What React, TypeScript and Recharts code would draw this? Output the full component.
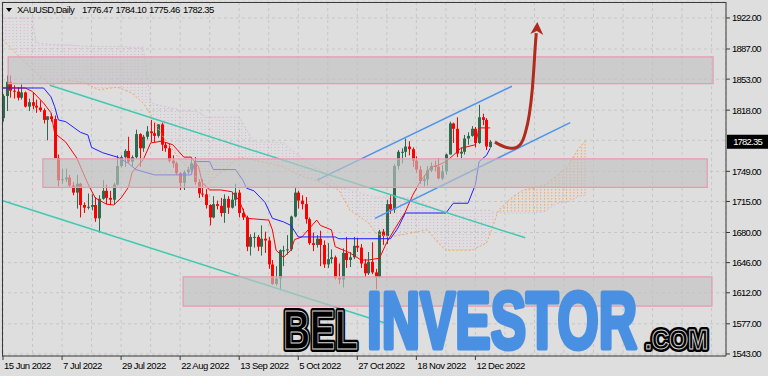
import React from 'react'
import {
  ComposedChart, Bar, Line, Area, XAxis, YAxis, CartesianGrid,
  ReferenceArea, ReferenceLine
} from 'recharts'

// XAUUSD daily candles, 15 Jun 2022 .. 16 Dec 2022: [open, high, low, close]
const CANDLES: [number, number, number, number][] = [
  [1809, 1836, 1805, 1834], [1834, 1857, 1817, 1850], [1850, 1857, 1832, 1840], [1840, 1846, 1831, 1839],
  [1839, 1844, 1829, 1832], [1832, 1847, 1830, 1838], [1838, 1839, 1821, 1822], [1822, 1831, 1817, 1827],
  [1827, 1838, 1819, 1823], [1823, 1830, 1815, 1821], [1821, 1829, 1816, 1818], [1818, 1820, 1803, 1807],
  [1807, 1811, 1784, 1811], [1811, 1814, 1805, 1808], [1808, 1812, 1764, 1764], [1764, 1768, 1732, 1739],
  [1739, 1752, 1735, 1740], [1740, 1752, 1737, 1742], [1742, 1745, 1731, 1733], [1733, 1737, 1722, 1725],
  [1725, 1745, 1707, 1735], [1735, 1736, 1697, 1711], [1711, 1714, 1702, 1708], [1708, 1724, 1706, 1709],
  [1709, 1723, 1705, 1711], [1711, 1720, 1692, 1696], [1696, 1722, 1680, 1718], [1718, 1739, 1717, 1727],
  [1727, 1734, 1712, 1719], [1719, 1727, 1711, 1717], [1717, 1736, 1711, 1734], [1734, 1767, 1733, 1755],
  [1755, 1767, 1753, 1765], [1765, 1774, 1754, 1772], [1772, 1788, 1758, 1760], [1760, 1767, 1754, 1765],
  [1765, 1796, 1763, 1791], [1791, 1792, 1754, 1775], [1775, 1790, 1771, 1788], [1788, 1800, 1785, 1794],
  [1794, 1807, 1782, 1792], [1792, 1804, 1782, 1789], [1789, 1802, 1787, 1802], [1802, 1804, 1772, 1779],
  [1779, 1782, 1771, 1775], [1775, 1780, 1759, 1761], [1761, 1767, 1753, 1758], [1758, 1760, 1745, 1747],
  [1747, 1748, 1728, 1736], [1736, 1750, 1728, 1748], [1748, 1754, 1746, 1751], [1751, 1764, 1748, 1758],
  [1758, 1765, 1734, 1737], [1737, 1740, 1719, 1724], [1724, 1740, 1720, 1723], [1723, 1729, 1707, 1711],
  [1711, 1712, 1688, 1697], [1697, 1721, 1696, 1712], [1712, 1716, 1706, 1710], [1710, 1719, 1698, 1702],
  [1702, 1723, 1691, 1718], [1718, 1721, 1701, 1708], [1708, 1726, 1707, 1717], [1717, 1735, 1710, 1725],
  [1725, 1728, 1697, 1702], [1702, 1707, 1694, 1697], [1697, 1699, 1659, 1664], [1664, 1678, 1654, 1675],
  [1675, 1680, 1663, 1675], [1675, 1677, 1659, 1664], [1664, 1688, 1654, 1673], [1673, 1681, 1657, 1671],
  [1671, 1675, 1639, 1644], [1644, 1649, 1621, 1622], [1622, 1642, 1620, 1628], [1628, 1661, 1615, 1660],
  [1660, 1665, 1642, 1660], [1660, 1677, 1655, 1661], [1661, 1699, 1659, 1698], [1698, 1730, 1697, 1725],
  [1725, 1727, 1707, 1716], [1716, 1722, 1706, 1712], [1712, 1720, 1690, 1695], [1695, 1697, 1666, 1668],
  [1668, 1680, 1659, 1666], [1666, 1677, 1663, 1673], [1673, 1682, 1642, 1666], [1666, 1671, 1640, 1644],
  [1644, 1668, 1640, 1650], [1650, 1661, 1645, 1652], [1652, 1654, 1627, 1629], [1629, 1645, 1622, 1627],
  [1627, 1662, 1618, 1657], [1657, 1675, 1640, 1649], [1649, 1658, 1641, 1652], [1652, 1675, 1650, 1665],
  [1665, 1674, 1658, 1663], [1663, 1667, 1640, 1645], [1645, 1650, 1630, 1634], [1634, 1658, 1632, 1647],
  [1647, 1669, 1633, 1635], [1635, 1639, 1616, 1630], [1630, 1683, 1629, 1681], [1681, 1684, 1666, 1676],
  [1676, 1717, 1667, 1712], [1712, 1722, 1701, 1706], [1706, 1757, 1702, 1755], [1755, 1773, 1751, 1771],
  [1771, 1775, 1758, 1771], [1771, 1786, 1765, 1777], [1777, 1783, 1767, 1774], [1774, 1776, 1754, 1761],
  [1761, 1766, 1747, 1751], [1751, 1755, 1735, 1738], [1738, 1745, 1732, 1740], [1740, 1755, 1733, 1750],
  [1750, 1759, 1748, 1755], [1755, 1761, 1749, 1754], [1754, 1764, 1740, 1741], [1741, 1756, 1739, 1749],
  [1749, 1769, 1745, 1768], [1768, 1805, 1768, 1803], [1803, 1804, 1781, 1797], [1797, 1810, 1765, 1769],
  [1769, 1776, 1764, 1771], [1771, 1790, 1768, 1786], [1786, 1793, 1779, 1789], [1789, 1800, 1788, 1797],
  [1797, 1799, 1776, 1781], [1781, 1824, 1780, 1810], [1810, 1814, 1801, 1807], [1807, 1809, 1773, 1777],
  [1776.47, 1784.1, 1775.46, 1782.35],
]

const DATE_LABELS = [
  '15 Jun 2022', '7 Jul 2022', '29 Jul 2022', '22 Aug 2022', '13 Sep 2022',
  '5 Oct 2022', '27 Oct 2022', '18 Nov 2022', '12 Dec 2022',
]
const PRICE_TICKS = [1543, 1577, 1612, 1646, 1680, 1715, 1749, 1784, 1818, 1853, 1887, 1922]
const LAST_PRICE = 1782.35

// Ichimoku: [bar, value]
const TENKAN: [number, number][] = [
  [0, 1843], [6, 1843], [8, 1839], [11, 1826], [13, 1815], [14, 1792], [17, 1782], [20, 1764],
  [23, 1735], [25, 1719], [28, 1712], [30, 1711], [32, 1719], [34, 1731], [35, 1748], [38, 1762],
  [40, 1781], [43, 1783], [46, 1779], [49, 1765], [51, 1765], [53, 1754], [54, 1736], [56, 1728],
  [59, 1728], [62, 1726], [64, 1716], [66, 1696], [72, 1694], [73, 1683], [74, 1660], [76, 1652],
  [78, 1660], [79, 1672], [81, 1675], [85, 1694], [86, 1688], [89, 1683], [90, 1664], [94, 1657],
  [97, 1649], [99, 1649], [102, 1651], [104, 1669], [106, 1683], [109, 1703], [111, 1722], [113, 1737],
  [116, 1754], [118, 1756], [120, 1760], [122, 1767], [124, 1775], [128, 1779], [129, 1798], [132, 1798],
]
const KIJUN: [number, number][] = [
  [0, 1843], [11, 1843], [13, 1833], [14, 1822], [15, 1807], [17, 1805], [19, 1799], [21, 1793],
  [23, 1790], [24, 1776], [27, 1770], [31, 1765], [34, 1758], [36, 1751], [41, 1745], [51, 1745],
  [52, 1760], [56, 1760], [57, 1751], [63, 1751], [65, 1739], [66, 1730], [68, 1727], [71, 1714],
  [73, 1696], [76, 1692], [78, 1688], [80, 1675], [90, 1675], [91, 1673], [105, 1673], [107, 1685],
  [109, 1702], [120, 1702], [122, 1713], [126, 1713], [128, 1734], [129, 1760], [131, 1767], [132, 1775],
]
// [bar, senkou span A, senkou span B]
const CLOUD: [number, number, number][] = [
  [0, 1897, 1922], [8, 1863, 1922], [9, 1860, 1894], [13, 1846, 1892], [17, 1852, 1892], [22, 1849, 1890],
  [26, 1841, 1890], [31, 1844, 1890], [35, 1837, 1889], [38, 1826, 1889], [40, 1813, 1826], [43, 1790, 1823],
  [48, 1762, 1818], [53, 1739, 1816], [55, 1734, 1810], [61, 1754, 1810], [64, 1765, 1810], [68, 1762, 1782],
  [72, 1758, 1782], [76, 1754, 1781], [80, 1745, 1767], [86, 1737, 1750], [91, 1728, 1731], [94, 1705, 1728],
  [99, 1691, 1722], [101, 1679, 1720], [105, 1675, 1720], [110, 1679, 1719], [115, 1683, 1711], [118, 1668, 1705],
  [120, 1660, 1705], [127, 1660, 1705], [131, 1668, 1705], [132, 1679, 1705], [133, 1690, 1703], [134, 1703, 1703],
  [135, 1708, 1702], [138, 1720, 1702], [141, 1728, 1702], [144, 1730, 1702], [147, 1734, 1704], [150, 1744, 1713],
  [153, 1755, 1714], [156, 1775, 1721], [158, 1784, 1722],
]

// drawn objects
const ZONES: [number, number, number, number][] = [
  [1.4, 192.4, 1848, 1878],
  [10.8, 190.8, 1731, 1763],
  [48.8, 192.1, 1597, 1630],
]
const DOWN_CHANNEL: [number, number, number, number][] = [
  [12.7, 1846, 141.5, 1674],
  [-0.25, 1716, 103.5, 1578],
]
const UP_CHANNEL: [number, number, number, number][] = [
  [85.1, 1739, 137.9, 1845],
  [100.8, 1696, 153.7, 1804],
]
const FORECAST: [number, number][] = [
  [133.3, 1782], [136, 1776.5], [138.2, 1775], [140.1, 1779], [141.5, 1792],
  [142.6, 1813], [143.4, 1841], [143.9, 1869], [144.2, 1889], [144.5, 1905],
]

const BULL = '#2f6a4f'
const BEAR = '#ff0000'
const ARROW_COLOR = '#b02a1e'
const AXIS = '#3a3a3a'
const FONT = '"Liberation Sans", Arial, sans-serif'

const candleData = CANDLES.map(([o, h, l, c], i) => ({ i, o, h, l, c, range: [l, h] }))
const toPoints = (arr: [number, number][]) => arr.map(([i, v]) => ({ i, v }))
const cloudData = CLOUD.map(([i, a, b]) => ({
  i, a, b,
  pink: b >= a ? [a, b] : null,
  orange: a >= b ? [b, a] : null,
}))
const gridTicks = Array.from({ length: 25 }, (_, k) => k * 8)

function Candle(props: any) {
  const { x, y, width, height, payload } = props
  const { o, h, l, c } = payload
  const top = Math.min(y, y + height)
  const bot = Math.max(y, y + height)
  const k = (bot - top) / (h - l || 1)
  const yo = top + (h - o) * k
  const yc = top + (h - c) * k
  const cx = Math.round(x + width / 2) + 0.5
  const color = c >= o ? BULL : BEAR
  return (
    <g>
      <line x1={cx} x2={cx} y1={top} y2={bot} stroke={color} strokeWidth={1} />
      <rect x={cx - 1.5} y={Math.min(yo, yc)} width={3} height={Math.max(1, Math.abs(yc - yo))} fill={color} />
    </g>
  )
}

function XTick({ x, y, payload }: any) {
  const k = payload.value / 16
  const label = Number.isInteger(k) ? DATE_LABELS[k] : undefined
  if (!label) return <g />
  return (
    <g>
      <line x1={x} x2={x} y1={y} y2={y + 4} stroke={AXIS} />
      <text x={x + 1} y={y + 13} fontSize={9.5} letterSpacing={-0.5} fill="#000" fontFamily={FONT}>{label}</text>
    </g>
  )
}

function YTick({ x, y, payload }: any) {
  if (payload.value === 1784) return <g />
  return (
    <g>
      <line x1={x} x2={x + 4} y1={y} y2={y} stroke={AXIS} />
      <text x={x + 6} y={y + 3.5} fontSize={9.5} letterSpacing={-0.8} fill="#000" fontFamily={FONT}>
        {payload.value.toFixed(2)}
      </text>
    </g>
  )
}

function PriceTag({ viewBox }: any) {
  const x = viewBox.x + viewBox.width
  const y = viewBox.y
  return (
    <g>
      <rect x={x + 1} y={y - 7} width={41} height={14} fill="#000" />
      <text x={x + 21.5} y={y + 3.5} textAnchor="middle" fontSize={9.5} letterSpacing={-0.8} fill="#fff" fontFamily={FONT}>
        {LAST_PRICE.toFixed(2)}
      </text>
    </g>
  )
}

function ArrowDot(p: any) {
  if (p.index !== FORECAST.length - 1) return <g key={p.index} />
  const { cx, cy } = p
  return (
    <polygon
      key="head"
      points={`${cx + 1},${cy - 11} ${cx - 6},${cy + 1} ${cx + 0.5},${cy - 2} ${cx + 7},${cy + 2}`}
      fill={ARROW_COLOR}
    />
  )
}

function Logo() {
  const outlined = (txt: string, x: number, size: number, len: number) => (
    <g>
      <text x={x} y={349} fontSize={size} fontWeight={700} fontFamily={FONT} textLength={len}
        lengthAdjust="spacingAndGlyphs" fill="#000" stroke="#000" strokeWidth={6} strokeLinejoin="round">{txt}</text>
      <text x={x} y={349} fontSize={size} fontWeight={700} fontFamily={FONT} textLength={len}
        lengthAdjust="spacingAndGlyphs" fill="#000" stroke="#d8d8d8" strokeWidth={1}>{txt}</text>
    </g>
  )
  return (
    <svg width={768} height={376} style={{ position: 'absolute', left: 0, top: 0, pointerEvents: 'none' }}>
      {/* frame */}
      <line x1={2.5} x2={2.5} y1={2} y2={356} stroke={AXIS} />
      <line x1={2} x2={726} y1={2.5} y2={2.5} stroke={AXIS} />
      {/* header */}
      <polygon points="6,8 12,8 9,12" fill="#000" />
      <g fontSize={9.5} letterSpacing={-0.5} fontFamily={FONT} fill="#000">
        <text x={17} y={13}>XAUUSD,Daily</text>
        <text x={82} y={13}>1776.47</text>
        <text x={115.5} y={13}>1784.10</text>
        <text x={149} y={13}>1775.46</text>
        <text x={183} y={13}>1782.35</text>
      </g>
      {/* watermark */}
      {outlined('BEL', 283, 55, 75)}
      <text x={367} y={348} fontSize={80} fontWeight={700} fontFamily={FONT} textLength={270}
        lengthAdjust="spacingAndGlyphs" fill="#4a90e2" stroke="#4a90e2" strokeWidth={5} strokeLinejoin="round">INVESTOR</text>
      {outlined('.COM', 645, 27, 63)}
    </svg>
  )
}

export default function App() {
  return (
    <div style={{ position: 'fixed', left: 0, top: 0, width: 768, height: 376, background: '#dedede', overflow: 'hidden' }}>
      <ComposedChart width={768} height={376} data={candleData} margin={{ top: 2, right: 0, left: 2, bottom: 0 }}>
        <defs>
          <pattern id="hatchPink" x={1.5} width={3.69} height={3} patternUnits="userSpaceOnUse">
            <line x1={0.5} x2={0.5} y1={0} y2={1} stroke="#d7b2d7" strokeWidth={1} />
          </pattern>
          <pattern id="hatchOrange" x={1.5} width={3.69} height={3} patternUnits="userSpaceOnUse">
            <line x1={0.5} x2={0.5} y1={0} y2={1.5} stroke="#f4a460" strokeWidth={1} />
          </pattern>
        </defs>
        <CartesianGrid stroke="#c6c6c6" strokeDasharray="3 3" />
        <XAxis
          type="number" dataKey="i" domain={[-0.27, 195.9]} allowDataOverflow
          ticks={gridTicks} interval={0} tick={<XTick />} tickLine={false} tickSize={0} tickMargin={0}
          height={20} axisLine={{ stroke: AXIS }}
        />
        <YAxis
          orientation="right" domain={[1540.7, 1940]} allowDataOverflow
          ticks={PRICE_TICKS} interval={0} tick={<YTick />} tickLine={false} tickSize={0} tickMargin={0}
          width={42} axisLine={{ stroke: AXIS }}
        />
        <Area data={cloudData} dataKey="pink" stroke="none" fill="url(#hatchPink)" fillOpacity={1} isAnimationActive={false} />
        <Area data={cloudData} dataKey="orange" stroke="none" fill="url(#hatchOrange)" fillOpacity={1} isAnimationActive={false} />
        <Line data={cloudData} dataKey="a" stroke="#f4a460" strokeDasharray="2 2" dot={false} isAnimationActive={false} />
        <Line data={cloudData} dataKey="b" stroke="#d8bfd8" strokeDasharray="2 2" dot={false} isAnimationActive={false} />
        <Bar dataKey="range" barSize={3} shape={Candle} isAnimationActive={false} />
        <Line data={toPoints(TENKAN)} dataKey="v" stroke="#ff0000" strokeWidth={1} dot={false} isAnimationActive={false} />
        <Line data={toPoints(KIJUN)} dataKey="v" stroke="#2020ff" strokeWidth={1} dot={false} isAnimationActive={false} />
        {DOWN_CHANNEL.map(([x1, y1, x2, y2], k) => (
          <ReferenceLine key={`d${k}`} segment={[{ x: x1, y: y1 }, { x: x2, y: y2 }]} stroke="#3fc9b0" strokeWidth={1.5} ifOverflow="visible" />
        ))}
        {UP_CHANNEL.map(([x1, y1, x2, y2], k) => (
          <ReferenceLine key={`u${k}`} segment={[{ x: x1, y: y1 }, { x: x2, y: y2 }]} stroke="#4f94ea" strokeWidth={1.5} ifOverflow="visible" />
        ))}
        {ZONES.map(([x1, x2, y1, y2], k) => (
          <ReferenceArea key={`z${k}`} x1={x1} x2={x2} y1={y1} y2={y2} fill="#c2c2c2" fillOpacity={0.65}
            stroke="#e59ab0" strokeWidth={1.2} ifOverflow="visible" zIndex={900} />
        ))}
        <ReferenceLine y={LAST_PRICE} stroke="none" label={{ content: <PriceTag /> } as any} ifOverflow="visible" />
        <Line data={toPoints(FORECAST)} dataKey="v" type="monotone" stroke={ARROW_COLOR} strokeWidth={3}
          dot={ArrowDot} activeDot={false} isAnimationActive={false} zIndex={1000} />
      </ComposedChart>
      <Logo />
    </div>
  )
}
